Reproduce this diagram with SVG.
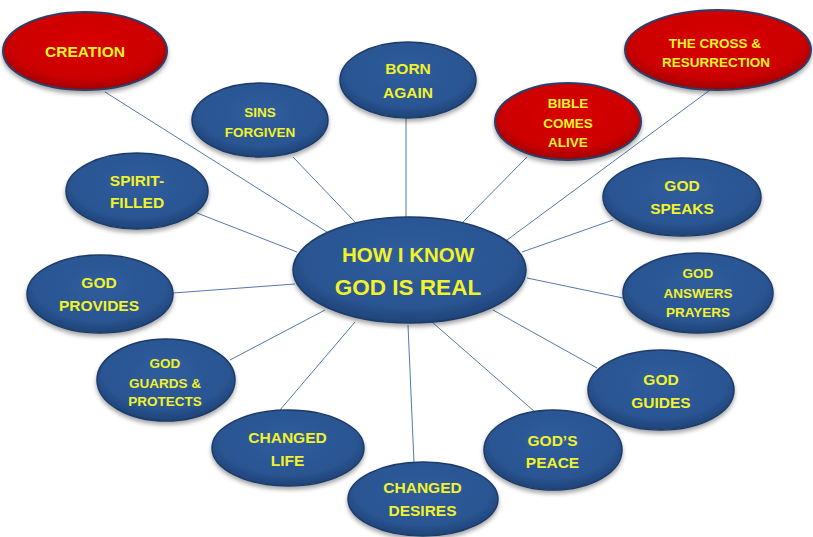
<svg xmlns="http://www.w3.org/2000/svg" width="813" height="537" viewBox="0 0 813 537">
<defs>
<radialGradient id="gBlue" cx="50%" cy="40%" r="60%">
<stop offset="0" stop-color="#2f5d9d"/>
<stop offset="0.75" stop-color="#2a5592"/>
<stop offset="1" stop-color="#1e4276"/>
</radialGradient>
<radialGradient id="gRed" cx="50%" cy="40%" r="60%">
<stop offset="0" stop-color="#d80000"/>
<stop offset="0.75" stop-color="#cc0000"/>
<stop offset="1" stop-color="#a00000"/>
</radialGradient>
<filter id="sh" x="-10%" y="-10%" width="120%" height="130%">
<feDropShadow dx="0" dy="3" stdDeviation="2" flood-color="#000" flood-opacity="0.35"/>
</filter>
</defs>
<style>
.b{fill:url(#gBlue);stroke:#1d3b68;stroke-width:1.5;filter:url(#sh)}
.r{fill:url(#gRed);stroke:#2c3f6a;stroke-width:2;filter:url(#sh)}
text{font-family:"Liberation Sans",Arial,sans-serif;font-weight:bold;fill:#f2f22c;text-anchor:middle}
.l{font-size:15.5px}
.s{font-size:13.5px}
.c line{stroke:#5479ab;stroke-width:1}
</style>
<rect width="813" height="537" fill="#fff"/>
<g id="connectors" class="c">
<line x1="105" y1="92" x2="330" y2="234"/>
<line x1="293" y1="157" x2="355" y2="222"/>
<line x1="406" y1="116" x2="406" y2="219"/>
<line x1="527" y1="157" x2="463" y2="222"/>
<line x1="710" y1="90" x2="507" y2="240"/>
<line x1="197" y1="213" x2="297" y2="252"/>
<line x1="613" y1="220" x2="522" y2="252"/>
<line x1="173" y1="293" x2="295" y2="284"/>
<line x1="527" y1="278" x2="623" y2="298"/>
<line x1="230" y1="360" x2="325" y2="310"/>
<line x1="280" y1="410" x2="355" y2="322"/>
<line x1="408" y1="325" x2="414" y2="463"/>
<line x1="432" y1="322" x2="535" y2="412"/>
<line x1="493" y1="310" x2="597" y2="368"/>
</g>
<g id="creation"><ellipse class="r" cx="85" cy="51" rx="82" ry="39"/><text class="l" x="85" y="56.5">CREATION</text></g>
<g id="cross"><ellipse class="r" cx="718" cy="50" rx="93" ry="40"/><text class="s" x="715" y="48">THE CROSS &amp;</text><text class="s" x="716" y="67">RESURRECTION</text></g>
<g id="born"><ellipse class="b" cx="408" cy="80" rx="68" ry="38"/><text class="l" x="408" y="74">BORN</text><text class="l" x="408" y="97.5">AGAIN</text></g>
<g id="sins"><ellipse class="b" cx="260" cy="120" rx="68" ry="37"/><text class="s" x="260" y="117">SINS</text><text class="s" x="260" y="137">FORGIVEN</text></g>
<g id="bible"><ellipse class="r" cx="568" cy="121.5" rx="73" ry="38.5"/><text class="s" x="568" y="108">BIBLE</text><text class="s" x="568" y="128">COMES</text><text class="s" x="568" y="147">ALIVE</text></g>
<g id="spirit"><ellipse class="b" cx="137" cy="191" rx="71" ry="38"/><text class="l" x="137" y="185.5">SPIRIT-</text><text class="l" x="137" y="207.5">FILLED</text></g>
<g id="speaks"><ellipse class="b" cx="682" cy="197" rx="79" ry="39"/><text class="l" x="682" y="190.5">GOD</text><text class="l" x="682" y="213.5">SPEAKS</text></g>
<g id="provides"><ellipse class="b" cx="100" cy="294" rx="73" ry="39"/><text class="l" x="99" y="287.5">GOD</text><text class="l" x="99" y="310.5">PROVIDES</text></g>
<g id="center"><ellipse class="b" cx="409.5" cy="270" rx="116.5" ry="53"/><text x="408" y="262" font-size="20.5px">HOW I KNOW</text><text x="408" y="295" font-size="22.5px">GOD IS REAL</text></g>
<g id="answers"><ellipse class="b" cx="698" cy="293" rx="75" ry="40"/><text class="s" x="698" y="278">GOD</text><text class="s" x="698" y="298">ANSWERS</text><text class="s" x="698" y="317">PRAYERS</text></g>
<g id="guards"><ellipse class="b" cx="166" cy="380" rx="69" ry="41"/><text class="s" x="165" y="368">GOD</text><text class="s" x="165" y="388">GUARDS &amp;</text><text class="s" x="165" y="406">PROTECTS</text></g>
<g id="guides"><ellipse class="b" cx="661" cy="390" rx="73" ry="40"/><text class="l" x="661" y="384.5">GOD</text><text class="l" x="661" y="407.5">GUIDES</text></g>
<g id="life"><ellipse class="b" cx="288" cy="448" rx="76" ry="38"/><text class="l" x="287.5" y="442.5">CHANGED</text><text class="l" x="287.5" y="465.5">LIFE</text></g>
<g id="peace"><ellipse class="b" cx="553" cy="450" rx="69" ry="40"/><text class="l" x="552.5" y="445.5">GOD’S</text><text class="l" x="552.5" y="467.5">PEACE</text></g>
<g id="desires"><ellipse class="b" cx="423" cy="499" rx="75" ry="37"/><text class="l" x="422.5" y="492.5">CHANGED</text><text class="l" x="422.5" y="515.5">DESIRES</text></g>
</svg>
